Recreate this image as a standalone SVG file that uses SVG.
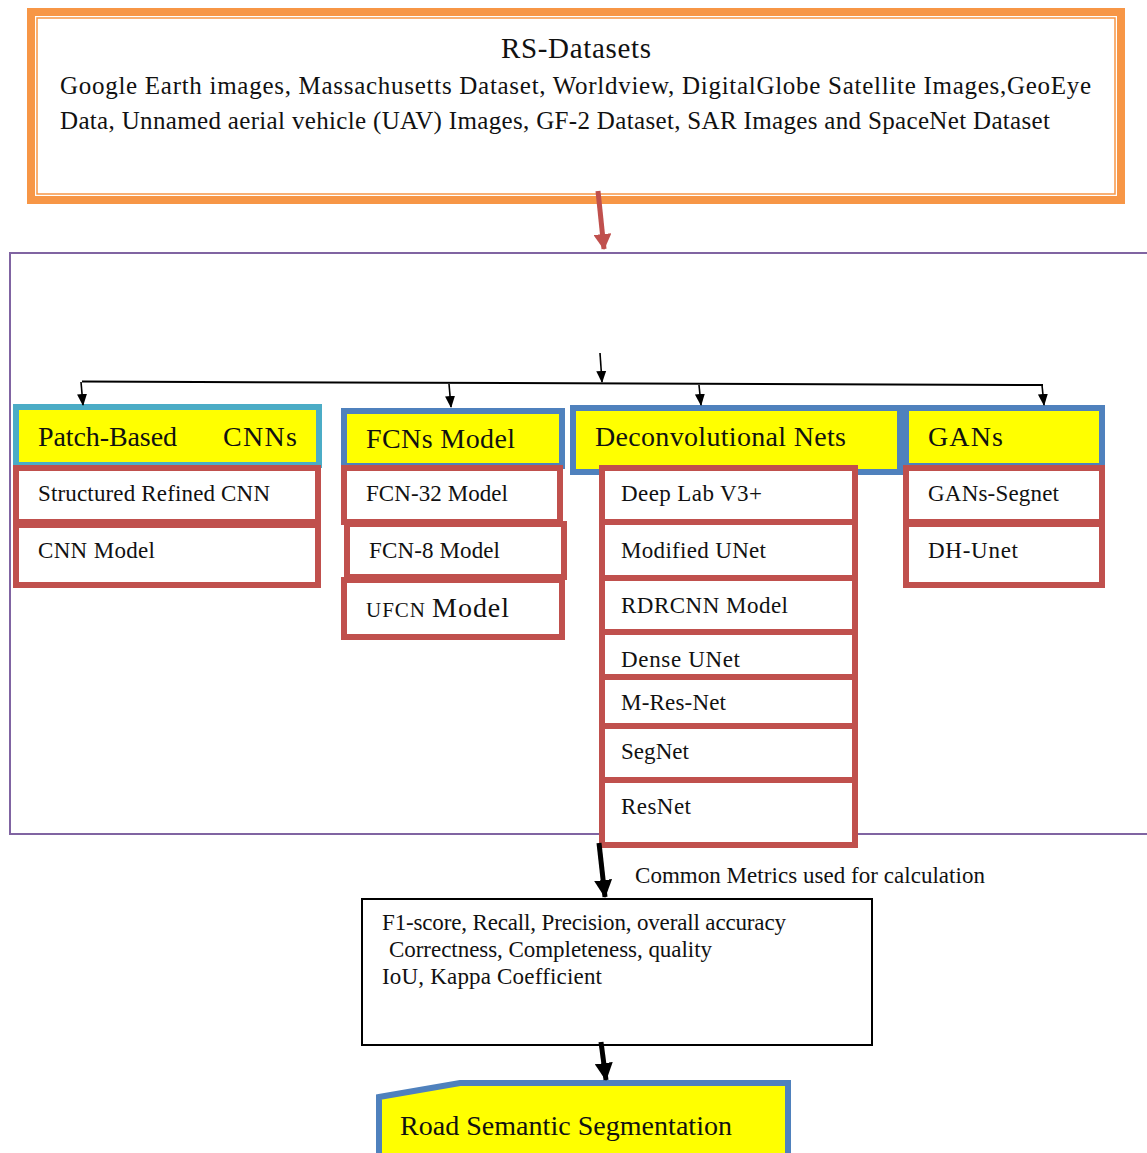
<svg xmlns="http://www.w3.org/2000/svg" width="1147" height="1153" viewBox="0 0 1147 1153">
<style>
text{font-family:"Liberation Serif","DejaVu Serif",serif;fill:#111;}
.hd{font-size:28px;}
.it{font-size:23px;}
.red{fill:#fff;stroke:#C0504D;stroke-width:6;}
.hdr{fill:#FFFF00;stroke:#4F81BD;stroke-width:6;}
.thin{stroke:#000;stroke-width:1.6;fill:none;}
</style>
<defs>
<marker id="ah" markerUnits="userSpaceOnUse" markerWidth="12" markerHeight="12" viewBox="0 0 12 12" refX="11" refY="6" orient="auto"><path d="M0,1 L12,6 L0,11 Z" fill="#000"/></marker>
<marker id="ahr" markerUnits="userSpaceOnUse" markerWidth="16" markerHeight="18" viewBox="0 0 16 18" refX="15" refY="9" orient="auto"><path d="M0,0 L16,9 L0,18 Z" fill="#C0504D"/></marker>
<marker id="ahb" markerUnits="userSpaceOnUse" markerWidth="18" markerHeight="18" viewBox="0 0 18 18" refX="17" refY="9" orient="auto"><path d="M0,0 L18,9 L0,18 Z" fill="#000"/></marker>
</defs>
<rect width="1147" height="1153" fill="#fff"/>

<g id="rs-datasets">
<rect x="31" y="12" width="1090" height="188" fill="#fff" stroke="#F79646" stroke-width="8"/>
<rect x="37" y="18" width="1078" height="176" fill="none" stroke="#F79646" stroke-width="1.5"/>
<text x="576" y="58" text-anchor="middle" style="font-size:29px" textLength="150">RS-Datasets</text>
<text x="60" y="94" style="font-size:25px" textLength="1031" lengthAdjust="spacing">Google Earth images, Massachusetts Dataset, Worldview, DigitalGlobe Satellite Images,GeoEye</text>
<text x="60" y="129" style="font-size:25px" textLength="990" lengthAdjust="spacing">Data, Unnamed aerial vehicle (UAV) Images, GF-2 Dataset, SAR Images and SpaceNet Dataset</text>
</g>

<g id="models-container">
<rect x="10" y="253" width="1150" height="581" fill="none" stroke="#8064A2" stroke-width="2"/>
</g>

<g id="patch-cnns">
<rect x="16" y="407" width="303" height="58" fill="#FFFF00" stroke="#4BACC6" stroke-width="6"/>
<text x="38" y="446" class="hd" textLength="139">Patch-Based</text>
<text x="223" y="446" class="hd" textLength="74">CNNs</text>
<rect x="16" y="468" width="302" height="54" class="red"/>
<text x="38" y="501" class="it" textLength="232">Structured Refined CNN</text>
<rect x="16" y="525" width="302" height="60" class="red"/>
<text x="38" y="558" class="it" textLength="117">CNN Model</text>
</g>

<g id="fcns">
<rect x="344" y="411" width="218" height="55" class="hdr"/>
<text x="366" y="448" class="hd" textLength="149">FCNs Model</text>
<rect x="344" y="468" width="216" height="54" class="red"/>
<text x="366" y="501" class="it" textLength="142">FCN-32 Model</text>
<rect x="347" y="524" width="217" height="53" class="red"/>
<text x="369" y="558" class="it" textLength="131">FCN-8 Model</text>
<rect x="344" y="580" width="218" height="57" class="red"/>
<text x="366" y="617" textLength="143"><tspan style="font-size:21px">UFCN </tspan><tspan style="font-size:28px">Model</tspan></text>
</g>

<g id="deconv">
<rect x="573" y="408" width="327" height="64" class="hdr"/>
<text x="595" y="446" class="hd" textLength="251">Deconvolutional Nets</text>
<rect x="602" y="468" width="253" height="54" class="red"/>
<text x="621" y="501" class="it" textLength="141">Deep Lab V3+</text>
<rect x="602" y="522" width="253" height="56" class="red"/>
<text x="621" y="558" class="it" textLength="145">Modified UNet</text>
<rect x="602" y="578" width="253" height="54" class="red"/>
<text x="621" y="613" class="it" textLength="167">RDRCNN Model</text>
<rect x="602" y="632" width="253" height="45" class="red"/>
<text x="621" y="667" class="it" textLength="119">Dense UNet</text>
<rect x="602" y="677" width="253" height="49" class="red"/>
<text x="621" y="710" class="it" textLength="105">M-Res-Net</text>
<rect x="602" y="726" width="253" height="54" class="red"/>
<text x="621" y="759" class="it" textLength="68">SegNet</text>
<rect x="602" y="780" width="253" height="65" class="red"/>
<text x="621" y="814" class="it" textLength="70">ResNet</text>
</g>

<g id="gans">
<rect x="906" y="408" width="196" height="58" class="hdr"/>
<text x="928" y="446" class="hd" textLength="75">GANs</text>
<rect x="906" y="468" width="196" height="54" class="red"/>
<text x="928" y="501" class="it" textLength="131">GANs-Segnet</text>
<rect x="906" y="524" width="196" height="61" class="red"/>
<text x="928" y="558" class="it" textLength="90">DH-Unet</text>
</g>

<g id="metrics">
<rect x="362" y="899" width="510" height="146" fill="#fff" stroke="#000" stroke-width="2"/>
<text x="382" y="930" class="it" textLength="404">F1-score, Recall, Precision, overall accuracy</text>
<text x="389" y="957" class="it" textLength="323">Correctness, Completeness, quality</text>
<text x="382" y="984" class="it" textLength="220">IoU, Kappa Coefficient</text>
</g>

<g id="road-seg">
<path d="M379,1097 L460,1083 L788,1083 L788,1160 L379,1160 Z" fill="#FFFF00" stroke="#4F81BD" stroke-width="6"/>
<text x="400" y="1135" class="hd" textLength="332">Road Semantic Segmentation</text>
</g>

<g id="connectors">
<line x1="598" y1="191" x2="604" y2="249" stroke="#C0504D" stroke-width="5" marker-end="url(#ahr)"/>
<line x1="600" y1="353" x2="602" y2="382" class="thin" marker-end="url(#ah)"/>
<line x1="82" y1="381.5" x2="1043" y2="385" stroke="#000" stroke-width="2"/>
<line x1="81" y1="382" x2="83" y2="405" class="thin" marker-end="url(#ah)"/>
<line x1="449" y1="384" x2="451" y2="407" class="thin" marker-end="url(#ah)"/>
<line x1="699" y1="385" x2="701" y2="405" class="thin" marker-end="url(#ah)"/>
<line x1="1042" y1="385" x2="1044" y2="405" class="thin" marker-end="url(#ah)"/>
<line x1="599" y1="843" x2="605" y2="897" stroke="#000" stroke-width="5" marker-end="url(#ahb)"/>
<text x="635" y="883" class="it" textLength="350">Common Metrics used for calculation</text>
<line x1="601" y1="1042" x2="606" y2="1080" stroke="#000" stroke-width="5" marker-end="url(#ahb)"/>
</g>
</svg>
